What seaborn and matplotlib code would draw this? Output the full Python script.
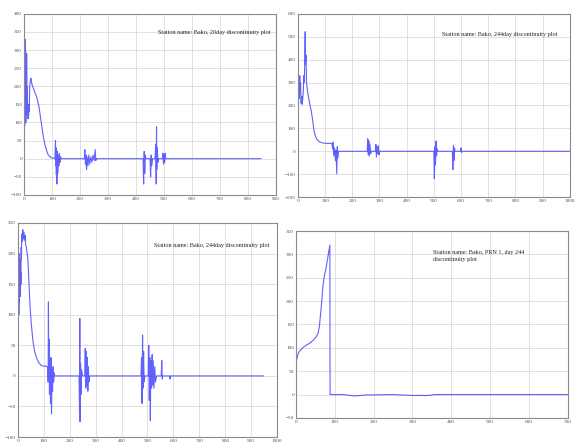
import matplotlib
matplotlib.use("Agg")
import matplotlib.pyplot as plt
import seaborn as sns
import pandas as pd

# ---- Panel 1: Bako, 20day ----
p1_x = [0, 1, 2, 3, 4, 5, 6, 7, 8, 9, 10, 11, 12, 13, 14, 15, 16, 17, 18, 20, 22, 24, 28, 35, 45, 53, 60, 65, 70, 76, 85, 94,
        110, 112, 113, 114, 115, 116, 117, 118, 120, 122, 124, 126, 128, 130, 133,
        215, 217, 219, 221, 223, 225, 228, 231, 234, 238, 242, 246, 250, 254, 256, 258,
        425, 427, 429, 431, 433, 435, 450, 452, 454, 456, 459, 468, 470, 472, 473, 474, 476, 478, 480,
        494, 496, 498, 500, 502, 504, 506, 847]
p1_y = [0, 180, 90, 330, 110, 300, 100, 260, 140, 290, 120, 200, 130, 150, 110, 145, 120, 150, 130, 200, 215, 222, 205, 190, 170, 144, 105, 80, 55, 33, 12, 4,
        0, 50, -20, 30, -45, 10, -70, 20, -40, 10, -20, 15, -10, 5, 0,
        0, 25, -15, 10, -30, 5, -20, 10, -15, 5, -10, 10, -5, 25, -5, 0,
        0, -70, 20, -40, 10, 0, 0, -50, 10, -20, 0, 0, 40, -70, 88, -30, 30, -10, 0,
        0, 15, -15, 10, -10, 15, 0, 0]

# ---- Panel 2: Bako, 244day ----
p2_x = [0, 2, 3, 4, 5, 6, 7, 8, 10, 12, 14, 16, 18, 20, 22, 24, 26, 27, 28, 30, 32, 35, 40, 45, 50, 55, 60, 65, 70, 80, 90, 100, 115, 125,
        128, 130, 132, 135, 138, 140, 143, 145, 147, 150,
        255, 257, 259, 261, 263, 265, 268, 270, 285, 287, 289, 291, 293, 296, 298, 300,
        500, 502, 504, 506, 508, 510, 512, 515, 568, 570, 572, 574, 576, 578, 598, 600, 602, 604, 1000]
p2_y = [300, 240, 320, 250, 310, 230, 330, 260, 300, 210, 240, 205, 230, 260, 330, 300, 450, 522, 380, 420, 300, 267, 230, 200, 172, 130, 85, 65, 52, 41, 37, 35, 34, 35,
        10, 40, -20, 15, -40, 5, -98, 20, -30, 0,
        0, 55, -15, 45, -20, 30, -10, 0, 0, 30, -25, 20, -10, 25, -15, 0,
        0, -120, 20, -60, 45, -20, 10, 0, 0, -80, 25, -40, 15, 0, 0, 15, -5, 0, 0]

# ---- Panel 3: Bako, 244day ----
p3_x = [0, 1, 2, 3, 4, 5, 6, 7, 8, 9, 10, 11, 12, 13, 14, 15, 17, 19, 21, 23, 25, 28, 30, 33, 39, 43, 48, 52, 58, 64, 71, 80, 90, 100, 110,
        115, 117, 118, 119, 120, 122, 124, 126, 128, 130, 132, 134, 136, 138, 140, 142,
        236, 238, 239, 240, 242, 244, 246, 250, 258, 260, 262, 264, 266, 268, 270, 272, 274, 277,
        475, 477, 479, 481, 483, 485, 487, 490, 503, 505, 507, 509, 511, 513, 516, 518, 520, 522, 525, 528, 531, 535,
        553, 555, 557, 559, 585, 587, 589, 948]
p3_y = [20, 150, 60, 190, 100, 200, 120, 175, 140, 190, 130, 170, 150, 210, 190, 232, 220, 239, 225, 235, 222, 230, 215, 210, 190, 150, 108, 85, 58, 42, 31, 22, 17, 16, 16,
        14, -10, 121, 0, 60, -30, 20, -45, 30, -62, 10, -25, 15, -10, 5, 0,
        0, -60, 94, -75, 20, -30, 10, 0, 0, 45, -20, 40, -15, 30, -25, 15, -10, 0,
        0, 30, -45, 67, -20, 40, -10, 0, 0, 50, -40, 30, -73, 25, -20, 35, -15, 25, -20, 15, -10, 0,
        0, 25, -5, 0, 0, -5, 0, 0]

# ---- Panel 4: Bako, PRN 1, day 244 ----
p4_x = [0, 6, 12, 18, 25, 35, 45, 52, 57, 60, 64, 69, 73, 77, 82, 87, 87.5, 120, 150, 180, 250, 300, 340, 360, 700]
p4_y = [71, 89, 96, 101, 105, 110, 117, 124, 132, 146, 180, 231, 255, 270, 295, 320, 0, 0, -3, -1, 0, -2, -2, 0, 0]

titles = ["Station name: Bako, 20day discontinuity plot",
          "Station name: Bako, 244day discontinuity plot",
          "Station name: Bako, 244day discontinuity plot",
          "Station name: Bako, PRN 1, day 244\ndiscontinuity plot"]

sns.set_style("white")
plt.rcParams['font.family'] = ['Liberation Serif', 'DejaVu Serif']

fig = plt.figure(figsize=(5.75, 4.46), dpi=100)

panels = [
    dict(x=p1_x, y=p1_y, pos=[0.042, 0.563, 0.438, 0.406], xlim=(0, 900), ylim=(-100, 400),
         xt=range(0, 901, 100), yt=range(-100, 401, 50), tpos=(0.53, 0.91)),
    dict(x=p2_x, y=p2_y, pos=[0.518, 0.558, 0.473, 0.411], xlim=(0, 1000), ylim=(-200, 600),
         xt=range(0, 1001, 100), yt=range(-200, 601, 100), tpos=(0.53, 0.90)),
    dict(x=p3_x, y=p3_y, pos=[0.031, 0.020, 0.451, 0.480], xlim=(0, 1000), ylim=(-100, 250),
         xt=range(0, 1001, 100), yt=range(-100, 251, 50), tpos=(0.525, 0.905)),
    dict(x=p4_x, y=p4_y, pos=[0.515, 0.063, 0.472, 0.419], xlim=(0, 700), ylim=(-50, 350),
         xt=range(0, 701, 100), yt=range(-50, 351, 50), tpos=(0.505, 0.90)),
]

for p, title in zip(panels, titles):
    ax = fig.add_axes(p["pos"])
    df = pd.DataFrame({"x": p["x"], "y": p["y"]})
    sns.lineplot(data=df, x="x", y="y", ax=ax, sort=False, estimator=None,
                 color="#3a3aff", linewidth=0.8, alpha=0.8)
    ax.set_xlim(*p["xlim"])
    ax.set_ylim(*p["ylim"])
    ax.set_xticks(list(p["xt"]))
    ax.set_yticks(list(p["yt"]))
    ax.tick_params(labelsize=3.8, colors="#555555", direction="in", length=2, width=0.4, pad=1.5)
    ax.grid(True, color="#d4d4d4", linewidth=0.5, linestyle="-")
    ax.set_xlabel("")
    ax.set_ylabel("")
    for s in ax.spines.values():
        s.set_color("#8a8a8a")
        s.set_linewidth(0.8)
    ax.text(p["tpos"][0], p["tpos"][1], title, transform=ax.transAxes,
            fontsize=4.4, color="#222222", va="top", ha="left", linespacing=1.6)

fig.savefig("out.png", dpi=100)
